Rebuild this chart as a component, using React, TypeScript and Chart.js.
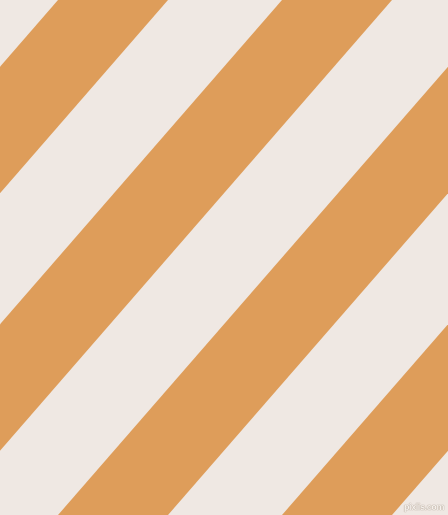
import { useEffect, useRef } from "react";
import Chart from "chart.js/auto";

// stripe edges, in px of the 448x515 picture (x where each edge meets the top / bottom row)
const stripeTopStart = [58, 282, 506, 730];
const stripeTopEnd = [168, 392, 616, 840];
const stripeBottomStart = [-390, -166, 58, 282];
const stripeBottomEnd = [-280, -56, 168, 392];

const WIDTH = 448;
const HEIGHT = 515;
const ORANGE = "#DE9D5A";
const CREAM = "#EFE8E3";

export default function App() {
  const chartRef = useRef<HTMLCanvasElement | null>(null);

  useEffect(() => {
    document.body.style.margin = "0";
    if (!chartRef.current) return;

    const ctx = chartRef.current.getContext("2d");
    if (!ctx) return;

    const datasets = stripeTopStart.map((x0, i) => ({
      label: "stripe " + (i + 1),
      data: [
        { x: x0, y: 0 },
        { x: stripeTopEnd[i], y: 0 },
        { x: stripeBottomEnd[i], y: HEIGHT },
        { x: stripeBottomStart[i], y: HEIGHT },
        { x: x0, y: 0 },
      ],
      backgroundColor: ORANGE,
      borderColor: ORANGE,
      borderWidth: 0,
      pointRadius: 0,
      showLine: true,
      fill: "shape" as const,
      tension: 0,
    }));

    const chartInstance = new Chart(ctx, {
      type: "scatter",
      data: { datasets },
      options: {
        responsive: false,
        animation: false,
        layout: { padding: 0 },
        plugins: {
          legend: { display: false },
          tooltip: { enabled: false },
        },
        scales: {
          x: { type: "linear", min: 0, max: WIDTH, display: false },
          y: { type: "linear", min: 0, max: HEIGHT, reverse: true, display: false },
        },
      },
    });

    return () => {
      chartInstance.destroy();
    };
  }, []);

  return (
    <div
      style={{
        position: "fixed",
        top: 0,
        left: 0,
        width: WIDTH,
        height: HEIGHT,
        background: CREAM,
        overflow: "hidden",
      }}
    >
      <canvas ref={chartRef} width={WIDTH} height={HEIGHT} style={{ display: "block" }}></canvas>
      <span
        style={{
          position: "absolute",
          right: 4,
          bottom: 3,
          font: "bold 9px 'Liberation Sans', Arial, sans-serif",
          letterSpacing: "-0.4px",
          color: "#F6F2EE",
          textShadow: "0 0 1px #A89888, 0 0 1px #A89888",
        }}
      >
        pixlis.com
      </span>
    </div>
  );
}
